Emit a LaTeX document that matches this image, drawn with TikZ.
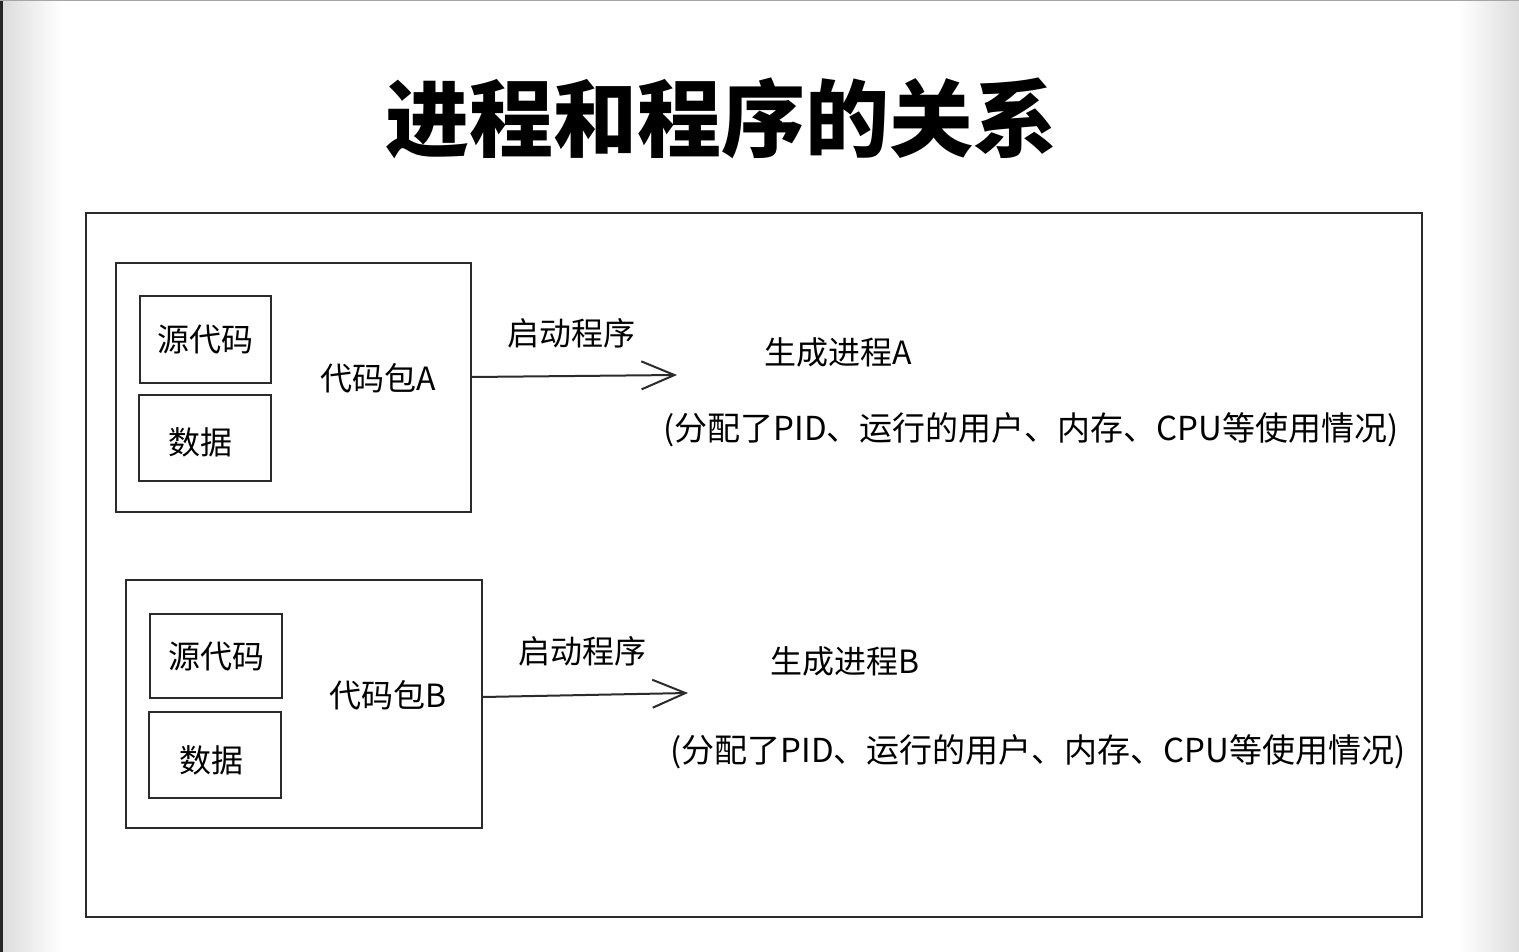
\documentclass[tikz,border=0pt]{standalone}
\usepackage{fontspec}
\usetikzlibrary{arrows.meta}
\newfontfamily\cjk{Noto Sans CJK SC}
\definecolor{inkc}{HTML}{2B2B2B}
\definecolor{edgegrey}{HTML}{DDDDDD}
\tikzset{
  frame/.style={draw=inkc, line width=2pt},
  lbl/.style={font=\cjk\fontsize{32}{36}\selectfont, text=black, inner sep=0pt},
  note/.style={font=\cjk\fontsize{33}{38}\selectfont, text=black, inner sep=0pt},
  arr/.style={draw=inkc, line width=2pt, -{Straight Barb[length=33pt,width=28pt]}},
}
\begin{document}
\begin{tikzpicture}[x=1pt,y=-1pt]
\useasboundingbox (0,0) rectangle (1519,952);
% page background
\fill[white] (0,0) rectangle (1519,952);
\shade[left color=edgegrey, right color=white] (3,0) rectangle (62,952);
\shade[left color=white, right color=edgegrey] (1458,0) rectangle (1519,952);
\fill[black!85] (0,0) rectangle (3,952);
\draw[gray!70, line width=1pt] (0,0.5) -- (1519,0.5);
% title
\node[font=\cjk\bfseries\fontsize{84}{96}\selectfont, inner sep=0pt] (title) at (721,118) {进程和程序的关系};
% outer frame
\node[frame, minimum width=1336pt, minimum height=704pt, inner sep=0pt] (outer) at (754,565) {};
% package A
\node[frame, minimum width=355pt, minimum height=249pt, inner sep=0pt] (pkgA) at (293.5,387.5) {};
\node[frame, minimum width=131pt, minimum height=87pt, inner sep=0pt] (srcA) at (205.5,339.5) {};
\node[frame, minimum width=132pt, minimum height=86pt, inner sep=0pt] (datA) at (205,438) {};
\node[lbl] (srcAt) at (205,340) {源代码};
\node[lbl] (datAt) at (200,442) {数据};
\node[lbl] (pkgAt) at (378,378) {代码包A};
\coordinate (endA) at (677,375);
\draw[arr] (pkgA.east |- 0,377) -- (endA);
\node[lbl] (startA) at (571,333) {启动程序};
\node[lbl] (procA) at (838,352) {生成进程A};
\node[note] (noteA) at (1031,430) {(分配了PID、运行的用户、内存、CPU等使用情况)};
% package B
\node[frame, minimum width=356pt, minimum height=248pt, inner sep=0pt] (pkgB) at (304,704) {};
\node[frame, minimum width=132pt, minimum height=84pt, inner sep=0pt] (srcB) at (216,656) {};
\node[frame, minimum width=132pt, minimum height=86pt, inner sep=0pt] (datB) at (215,755) {};
\node[lbl] (srcBt) at (216,657) {源代码};
\node[lbl] (datBt) at (211,760) {数据};
\node[lbl] (pkgBt) at (388,695) {代码包B};
\coordinate (endB) at (688,693);
\draw[arr] (pkgB.east |- 0,697) -- (endB);
\node[lbl] (startB) at (582,651) {启动程序};
\node[lbl] (procB) at (845,661) {生成进程B};
\node[note] (noteB) at (1038,752) {(分配了PID、运行的用户、内存、CPU等使用情况)};
\end{tikzpicture}
\end{document}
